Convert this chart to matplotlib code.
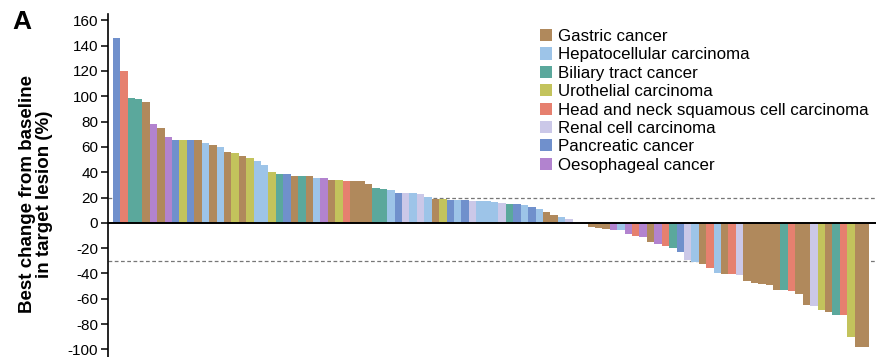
import matplotlib.pyplot as plt
from matplotlib.patches import Patch

plt.rcParams["font.family"] = ["Liberation Sans", "DejaVu Sans"]
plt.rcParams["axes.unicode_minus"] = False

cancer_types = [
    "Gastric cancer",
    "Hepatocellular carcinoma",
    "Biliary tract cancer",
    "Urothelial carcinoma",
    "Head and neck squamous cell carcinoma",
    "Renal cell carcinoma",
    "Pancreatic cancer",
    "Oesophageal cancer",
]
type_colors = ["#b0895c", "#9dc4e8", "#5ba89c", "#c3c35c",
               "#e6806f", "#cbc8e8", "#7090cc", "#b283cf"]

# short codes: G, H, B, U, N, R, P, O (same order as cancer_types)
patient_type = (
    "P N B B G O G O P U P G H G H G U "
    "G U H H U B P G B G H O G U N G G "
    "G B B H P R H R H G U P H P R H H "
    "H R B P H P H G G H R R H "
    "G G G O H O N O G O N B P R H G N H G N R "
    "G G G G G B N G G R U G B N U G G"
).split()

best_change = [
    146, 120, 98.4, 97.8, 95.2, 77.8, 75, 68.2, 65.8, 65.8, 65.8, 65.8, 63.2, 61.4, 59.9, 56, 55.5,
    52.8, 51, 48.9, 45.8, 40.3, 38.5, 38.5, 36.9, 36.9, 36.7, 35.6, 35.4, 34.1, 33.6, 33, 33, 33,
    31, 27.6, 27.1, 26.3, 23.7, 23.2, 23.2, 22.4, 20.5, 19, 18.5, 18, 18, 18, 17.4, 17.4, 17.4,
    16.6, 15.9, 15.1, 14.6, 13.8, 12.5, 10.7, 8.8, 6.2, 4.7, 2.9, 0.5,
    -0.5, -3, -4.4, -4.6, -5.5, -5.5, -9, -10.7, -10.9, -14.8, -16.6, -18.6, -20, -23, -29.5, -31,
    -32.5, -36, -39.5, -40.3, -40.8, -41,
    -46, -47.4, -48.4, -48.8, -53, -53.3, -53.5, -56.5, -65, -66, -68.5, -70.5, -72.6, -72.8,
    -90.3, -98, -98,
]

codes = "GHBUNRPO"
bar_colors = [type_colors[codes.index(c)] for c in patient_type]

fig = plt.figure(figsize=(8.76, 3.57), dpi=100)
ax = fig.add_axes([108 / 876, 0, 768 / 876, 1 - 14 / 357])

x = range(len(best_change))
ax.bar(x, best_change, width=1.0, color=bar_colors, zorder=2)

ax.axhline(0, color="black", lw=1.4, zorder=3)
ax.axhline(20, color="#777777", lw=0.9, ls=(0, (3, 2)), zorder=1)
ax.axhline(-30, color="#777777", lw=0.9, ls=(0, (3, 2)), zorder=1)

ax.set_xlim(-1.13, 102.38)
ax.set_ylim(-106, 165)
ax.set_yticks(range(-100, 161, 20))
ax.set_xticks([])
for side in ["top", "right", "bottom"]:
    ax.spines[side].set_visible(False)
ax.spines["left"].set_linewidth(1.2)
ax.tick_params(axis="y", direction="out", length=5, width=1.1, labelsize=11, pad=2)

fig.text(36 / 876, 1 - 194 / 357, "Best change from baseline\nin target lesion (%)",
         rotation=90, ha="center", va="center", fontsize=13.5, fontweight="bold",
         linespacing=1.0)

fig.text(22 / 876, 1 - 22 / 357, "A", fontsize=19, fontweight="bold", ha="center", va="center")

handles = [Patch(facecolor=c, edgecolor="none") for c in type_colors]
ax.legend(handles, cancer_types, loc="upper left", bbox_to_anchor=(540 / 876, 1 - 29 / 357),
          bbox_transform=fig.transFigure, frameon=False, fontsize=12.2,
          handlelength=0.72, handleheight=0.72, handletextpad=0.36, labelspacing=0.2,
          borderaxespad=0, borderpad=0)

fig.savefig("out.png", dpi=100)
